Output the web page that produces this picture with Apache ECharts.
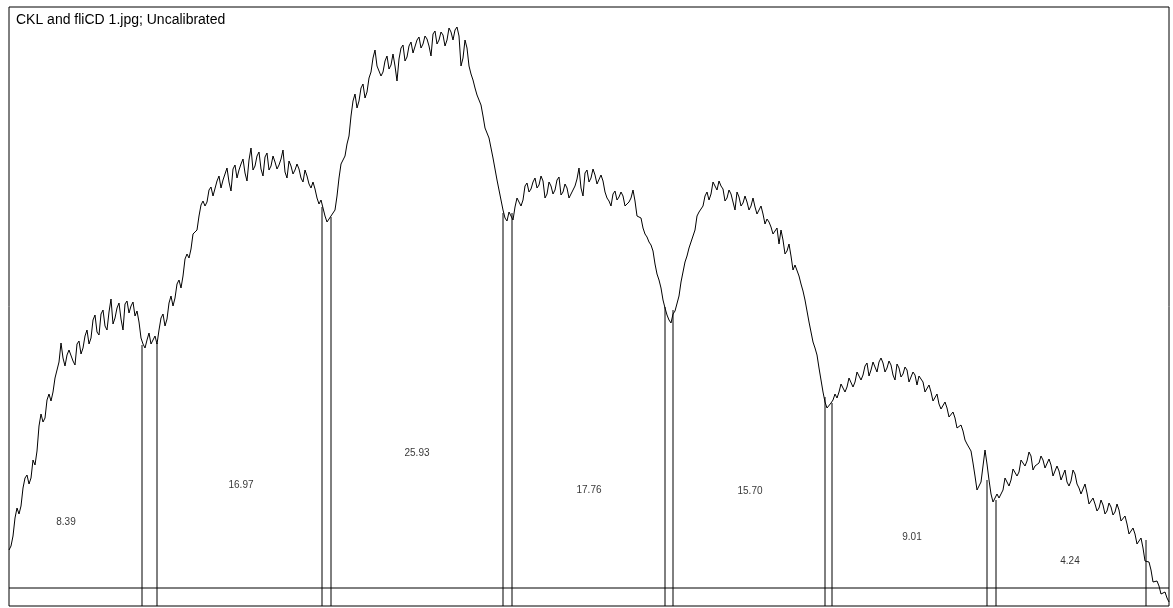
<!DOCTYPE html>
<html>
<head>
<meta charset="utf-8">
<script src="https://cdn.jsdelivr.net/npm/echarts@6/dist/echarts.min.js"></script>
<style>
html,body{margin:0;padding:0;background:#fff;}
#chart{width:1173px;height:608px;}
</style>
</head>
<body>
<div id="chart"></div>
<script>
// Title of the ImageJ profile plot
const plotTitle = "CKL and fliCD 1.jpg; Uncalibrated";

// Profile sample spacing (distance units between samples)
const sampleStep = 2;

// Profile intensity values
const profileValues = [
  // lane 1
  56,60,70,88,98,92,100,118,128,131,122,128,146,141,155,180,192,184,188,206,
  212,205,214,228,236,244,263,248,240,251,256,258,245,241,262,265,252,258,270,276,
  262,268,286,291,274,271,292,296,280,276,294,307,282,288,298,303,287,276,302,305,
  293,300,304,290,295,284,268,262,
  // lane 2
  258,266,273,262,264,270,262,276,288,292,280,287,303,310,300,308,322,326,318,330,
  347,352,348,357,372,370,376,390,401,405,400,404,416,419,410,412,425,430,418,426,
  432,438,424,415,437,441,428,436,442,447,433,425,446,458,436,440,450,454,437,430,
  449,453,436,440,450,444,437,441,447,456,434,428,445,440,432,436,442,437,428,424,
  436,430,422,418,424,417,408,402,406,398,
  // lane 3
  390,384,385,390,388,396,410,428,442,440,450,462,470,490,505,512,498,505,518,522,
  508,514,528,534,548,556,540,538,530,534,545,550,537,541,552,540,525,547,558,561,
  545,549,560,564,553,555,566,569,558,562,570,567,560,550,572,575,562,566,574,571,
  560,566,578,574,566,576,579,570,540,548,566,558,540,532,526,518,511,506,501,490,
  478,473,468,458,448,437,426,416,406,396,
  // lane 4
  388,385,394,392,386,399,408,410,400,406,420,423,414,417,424,428,418,421,430,425,
  408,412,424,420,412,416,426,429,411,414,422,418,408,410,416,420,427,438,418,410,
  433,436,424,428,437,431,422,424,431,425,414,408,405,400,412,415,406,409,414,410,
  400,398,404,408,416,405,390,391,388,378,372,369,364,361,355,342,332,326,318,306,
  298,291,
  // lane 5
  286,283,292,295,297,310,324,334,344,350,358,364,366,376,390,394,392,400,410,414,
  406,412,424,420,416,425,420,417,405,408,416,412,404,396,414,409,400,403,410,404,
  396,400,408,399,392,394,400,392,382,387,384,379,372,374,378,362,376,366,352,355,
  362,350,336,341,340,330,322,315,306,295,284,274,264,258,251,238,226,214,
  // lane 6
  204,198,196,203,206,212,208,214,222,220,214,219,228,230,219,224,234,236,226,231,
  240,243,230,236,244,246,234,244,248,243,234,238,245,241,231,226,242,238,229,232,
  239,236,224,226,234,231,221,230,229,224,214,216,221,214,205,206,212,202,197,198,
  204,198,189,190,194,188,178,176,181,175,166,162,163,155,143,130,116,114,124,140,
  // lane 7
  156,142,126,112,104,106,112,108,110,116,128,126,120,126,137,135,130,134,146,144,
  140,145,154,150,136,140,140,143,150,146,138,140,147,141,130,132,140,135,126,128,
  136,124,120,125,136,132,122,118,112,114,122,113,102,104,108,102,95,98,106,101,
  92,95,103,99,91,94,102,96,85,86,90,82,72,74,78,72,62,63,68,58,
  45,47,44,36,24,22,25,20,12,10,14,8,4
];

// Peak-separation lines: position along the profile and the value where each meets the curve
const dividerPositions = [133,148,313,322,494,503,656,664,816,823,978,987,1137];
const dividerTops      = [261,263,399,389,393,393,299,296,209,203,126,106,66];

// Baseline level drawn across the plot
const baselineValue = 18;

// Peak area labels (percent) and the profile point each is written at
const areaLabels   = ["8.39","16.97","25.93","17.76","15.70","9.01","4.24"];
const labelCenters = [57,232,408,580,741,903,1061];
const labelLevels  = [84,121,153,116,115,69,45];

// Axis ranges
const xMax = 1160;
const yMax = 599;

const profileData = profileValues.map((v, i) => [i * sampleStep, v]);

const series = [
  {
    type: 'line',
    data: profileData,
    showSymbol: false,
    symbol: 'none',
    sampling: null,
    lineStyle: { color: '#000', width: 1 },
    z: 5,
    silent: true
  },
  {
    type: 'line',
    data: [[0, baselineValue], [xMax, baselineValue]],
    showSymbol: false,
    symbol: 'none',
    lineStyle: { color: '#000', width: 1 },
    silent: true
  }
];

dividerPositions.forEach((x, k) => {
  series.push({
    type: 'line',
    data: [[x, 0], [x, dividerTops[k]]],
    showSymbol: false,
    symbol: 'none',
    lineStyle: { color: '#000', width: 1 },
    silent: true
  });
});

series.push({
  type: 'scatter',
  data: areaLabels.map((t, k) => ({ value: [labelCenters[k], labelLevels[k]], name: t })),
  symbolSize: 0,
  silent: true,
  label: {
    show: true,
    position: 'inside',
    formatter: p => p.name,
    color: '#000',
    fontSize: 10,
    fontFamily: 'Liberation Sans, Arial, sans-serif'
  }
});

const chart = echarts.init(document.getElementById('chart'), null, { renderer: 'canvas' });
chart.setOption({
  animation: false,
  backgroundColor: '#fff',
  title: {
    text: plotTitle,
    left: 11,
    top: 8,
    textStyle: { fontSize: 14, fontWeight: 'normal', color: '#000', fontFamily: 'Liberation Sans, Arial, sans-serif' }
  },
  grid: {
    left: 9, top: 7, width: 1160, height: 599,
    show: true, borderColor: '#000', borderWidth: 1, backgroundColor: 'transparent'
  },
  xAxis: {
    type: 'value', min: 0, max: xMax,
    axisLine: { show: false }, axisTick: { show: false },
    axisLabel: { show: false }, splitLine: { show: false }
  },
  yAxis: {
    type: 'value', min: 0, max: yMax,
    axisLine: { show: false }, axisTick: { show: false },
    axisLabel: { show: false }, splitLine: { show: false }
  },
  series: series
});
</script>
</body>
</html>
